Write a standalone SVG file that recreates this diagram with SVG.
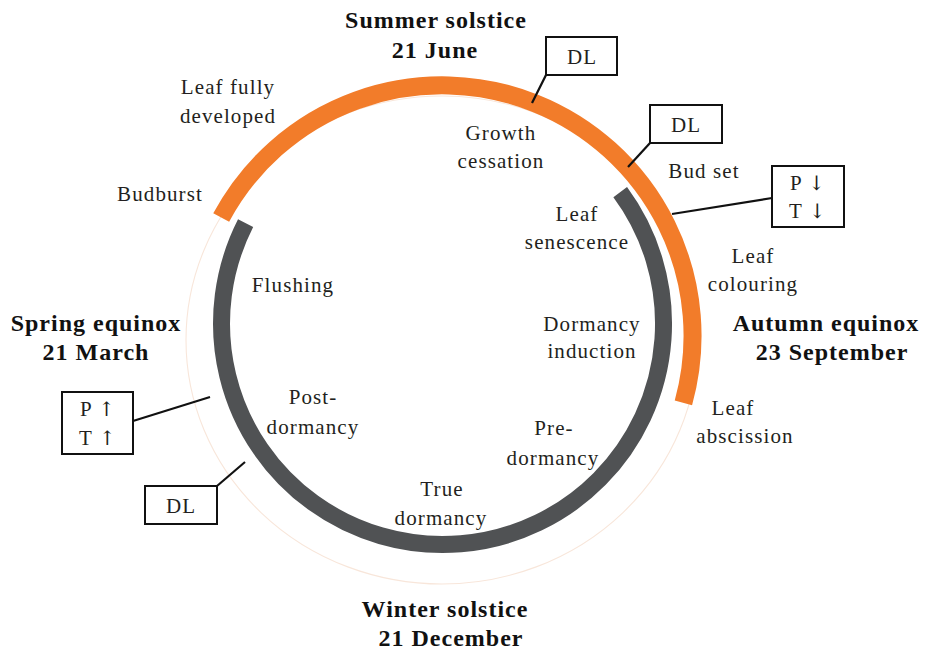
<svg xmlns="http://www.w3.org/2000/svg" width="929" height="651" viewBox="0 0 929 651">
<style>
.t{font-family:"Liberation Serif","Times New Roman",serif;font-size:21px;fill:#231f20;text-anchor:middle;letter-spacing:1.1px}
.b{font-family:"Liberation Serif","Times New Roman",serif;font-size:24px;font-weight:bold;fill:#111;text-anchor:middle;letter-spacing:1px}
.ar{font-family:"DejaVu Serif","DejaVu Sans",serif;font-size:20px}
.box{fill:#fff;stroke:#111;stroke-width:2}
.con{stroke:#111;stroke-width:2.2;fill:none}
</style>
<rect width="929" height="651" fill="#fff"/>
<g id="cycle">
<ellipse cx="442" cy="340" rx="256" ry="244" fill="none" stroke="#f8e6da" stroke-width="1.1"/>
<path id="growth-arc" d="M221.2,217.6 A250.5,250.5 0 0 1 683.4,402.9" fill="none" stroke="#f27c2a" stroke-width="18"/>
<path id="dormancy-arc" d="M620.2,192.1 A221,221 0 1 1 245.6,223.2" fill="none" stroke="#505254" stroke-width="17"/>
</g>
<g id="connectors">
<line class="con" x1="546" y1="75" x2="532" y2="103"/>
<line class="con" x1="650" y1="143" x2="628" y2="167"/>
<line class="con" x1="772" y1="198" x2="672" y2="214"/>
<line class="con" x1="133" y1="421" x2="210" y2="397"/>
<line class="con" x1="217" y1="486" x2="245" y2="462"/>
</g>
<g id="summer"><text class="b" x="436" y="28">Summer solstice</text><text class="b" x="435" y="58">21 June</text></g>
<g id="spring"><text class="b" x="96" y="331">Spring equinox</text><text class="b" x="96" y="360">21 March</text></g>
<g id="autumn"><text class="b" x="826" y="331">Autumn equinox</text><text class="b" x="832" y="360">23 September</text></g>
<g id="winter"><text class="b" x="445" y="617">Winter solstice</text><text class="b" x="451" y="646">21 December</text></g>
<g id="leaf-developed"><text class="t" x="228" y="94">Leaf fully</text><text class="t" x="228" y="123">developed</text></g>
<g id="budburst"><text class="t" x="160" y="201">Budburst</text></g>
<g id="growth-cessation"><text class="t" x="501" y="140">Growth</text><text class="t" x="501" y="168">cessation</text></g>
<g id="bud-set"><text class="t" x="704" y="178">Bud set</text></g>
<g id="leaf-colouring"><text class="t" x="753" y="263">Leaf</text><text class="t" x="753" y="291">colouring</text></g>
<g id="leaf-senescence"><text class="t" x="577" y="221">Leaf</text><text class="t" x="577" y="249">senescence</text></g>
<g id="flushing"><text class="t" x="293" y="292">Flushing</text></g>
<g id="dormancy-induction"><text class="t" x="592" y="331">Dormancy</text><text class="t" x="592" y="358">induction</text></g>
<g id="leaf-abscission"><text class="t" x="733" y="415">Leaf</text><text class="t" x="745" y="443">abscission</text></g>
<g id="post-dormancy"><text class="t" x="313" y="404">Post-</text><text class="t" x="313" y="434">dormancy</text></g>
<g id="pre-dormancy"><text class="t" x="554" y="435">Pre-</text><text class="t" x="553" y="465">dormancy</text></g>
<g id="true-dormancy"><text class="t" x="442" y="496">True</text><text class="t" x="441" y="525">dormancy</text></g>
<g id="box-dl1"><rect class="box" x="546" y="37" width="71" height="38"/><text class="t" x="582" y="64">DL</text></g>
<g id="box-dl2"><rect class="box" x="650" y="105" width="72" height="38"/><text class="t" x="686" y="132">DL</text></g>
<g id="box-pt-down"><rect class="box" x="772" y="166" width="72" height="61"/><text class="t" x="808" y="190">P <tspan class="ar">↓</tspan></text><text class="t" x="808" y="218">T <tspan class="ar">↓</tspan></text></g>
<g id="box-pt-up"><rect class="box" x="62" y="392" width="71" height="62"/><text class="t" x="98" y="416">P <tspan class="ar">↑</tspan></text><text class="t" x="98" y="445">T <tspan class="ar">↑</tspan></text></g>
<g id="box-dl3"><rect class="box" x="145" y="486" width="72" height="38"/><text class="t" x="181" y="513">DL</text></g>
</svg>
